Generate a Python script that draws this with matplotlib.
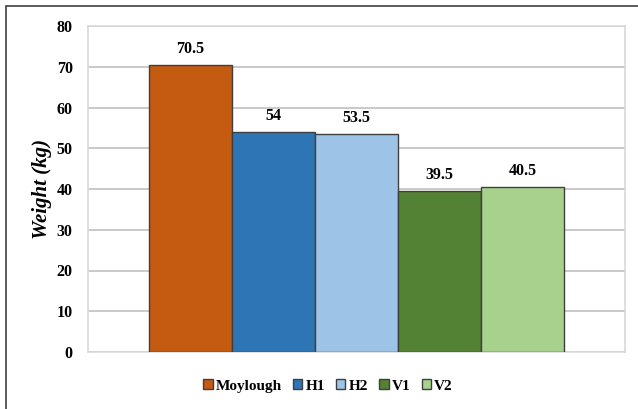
import matplotlib
matplotlib.use("Agg")
import matplotlib.pyplot as plt
from matplotlib.patches import Rectangle

categories = ["Moylough", "H1", "H2", "V1", "V2"]
values = [70.5, 54, 53.5, 39.5, 40.5]
colors = ["#C55A11", "#2E75B6", "#9DC3E6", "#548235", "#A9D18E"]
yticks = [0, 10, 20, 30, 40, 50, 60, 70, 80]

plt.rcParams["font.family"] = ["Liberation Serif", "DejaVu Serif"]

fig = plt.figure(figsize=(6.38, 4.09), dpi=100)
ax = fig.add_axes([88/638, 1-352/409, (625-88)/638, (352-26)/409])

w = 83/537
n = len(values)
for i, (c, v, col) in enumerate(zip(categories, values, colors)):
    x = (i - (n-1)/2) * w
    ax.bar(x, v, width=w, color=col, edgecolor="#3f3f3f", linewidth=1.0, label=c, zorder=3)
    ax.text(x, v + 2.0, f"{v:g}", ha="center", va="bottom", fontsize=11.5, fontweight="bold")

ax.set_xlim(-0.5, 0.5)
ax.set_ylim(0, 80)
ax.set_yticks(yticks)
ax.set_xticks([])
ax.tick_params(axis="y", length=0, pad=11, labelsize=11.5)
for lab in ax.get_yticklabels():
    lab.set_fontweight("bold")
ax.grid(axis="y", color="#c0c0c0", linewidth=1.2, zorder=0)
for s in ax.spines.values():
    s.set_color("#d9d9d9")
    s.set_linewidth(1.2)
ax.set_ylabel("Weight (kg)", fontsize=15, fontweight="bold", fontstyle="italic", labelpad=3)

fig.legend(loc="center", bbox_to_anchor=(328/638, 1-386/409), ncol=5, frameon=False,
           prop={"weight": "bold", "size": 11}, handlelength=0.6, handleheight=0.6,
           handletextpad=0.2, columnspacing=0.75, borderaxespad=0)

fig.patches.append(Rectangle((6/638, -0.1), 1.2, 1 - 6/409 + 0.1, transform=fig.transFigure,
                             fill=False, edgecolor="#404040", linewidth=1.2))

fig.savefig("out.png", dpi=100)
